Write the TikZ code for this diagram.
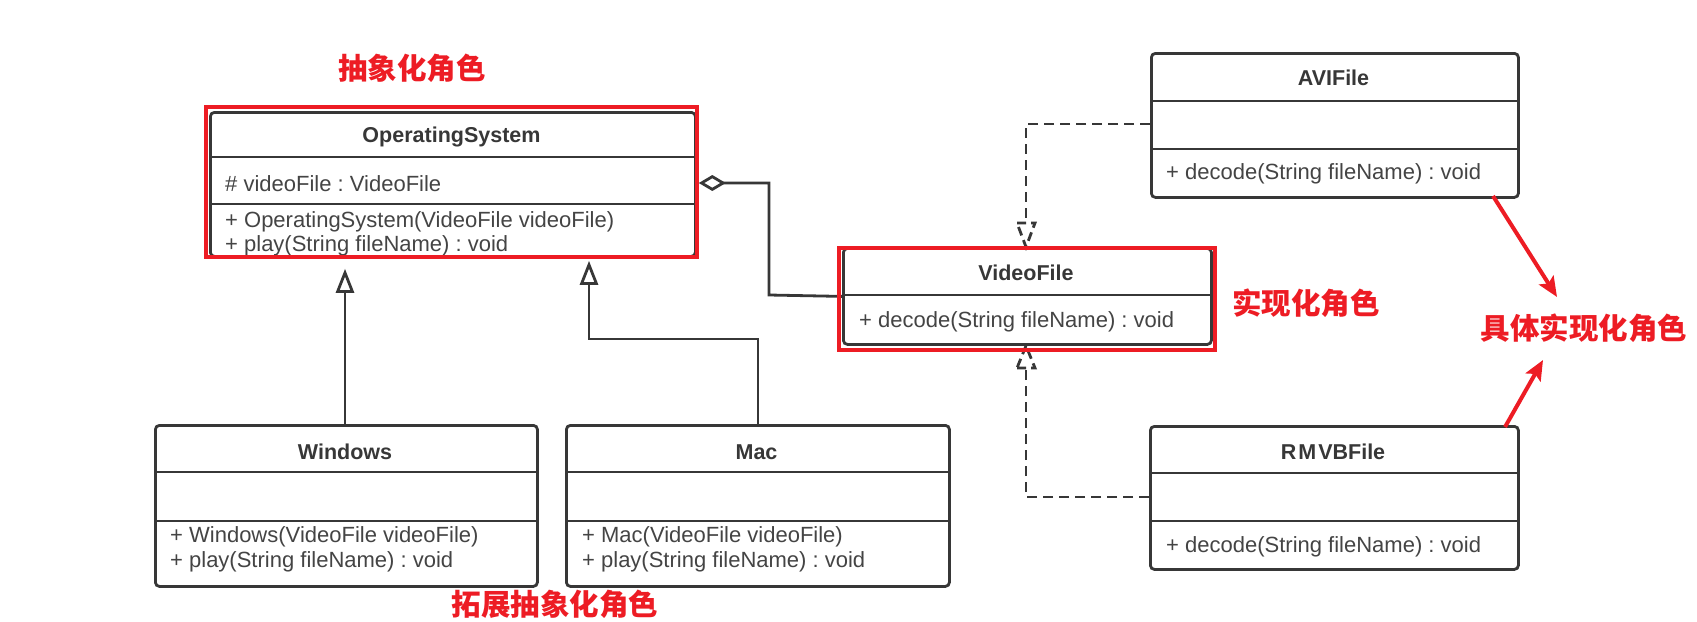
\documentclass[tikz,border=0pt]{standalone}
\usepackage{fontspec}
\setmainfont{Liberation Sans}
\newfontfamily\cjk{Noto Sans CJK SC}
\usetikzlibrary{arrows.meta}
\definecolor{ink}{RGB}{55,55,55}
\definecolor{txt}{RGB}{68,68,68}
\definecolor{hl}{RGB}{237,28,36}
\frenchspacing
\begin{document}
\begin{tikzpicture}[x=1pt,y=-1pt,
  cls/.style={draw=ink, line width=2.8pt, rounded corners=4pt, fill=white, inner sep=0pt, anchor=north west},
  divider/.style={draw=ink, line width=2.8pt},
  ctitle/.style={text=ink, font=\fontsize{21.5}{24}\selectfont\bfseries, inner sep=0pt},
  member/.style={text=txt, font=\fontsize{22}{25}\selectfont, inner sep=0pt, anchor=west},
  conn/.style={draw=ink, line width=2.8pt},
  gen/.style={conn, -{Triangle[open, length=24pt, width=18pt, line width=2.8pt]}},
  agg/.style={conn, {Diamond[open, length=27pt, width=16pt, line width=2.8pt]}-},
  real/.style={conn, dash pattern=on 10pt off 6pt},
  realtip/.style={conn, dash pattern=on 9pt off 5pt},
  hlbox/.style={draw=hl, line width=4.5pt},
  hlarrow/.style={draw=hl, line width=4pt, -{Stealth[length=20pt, width=17pt, inset=4pt]}},
  hllabel/.style={text=hl, font=\cjk\fontsize{29.5}{32}\selectfont\bfseries, inner sep=0pt}
]
\useasboundingbox (0,0) rectangle (1697,621);

% ---------- OperatingSystem ----------
\node[cls, minimum width=485pt, minimum height=144pt] (os) at (209,111) {};
\draw[divider] (209,157) -- (694,157);
\draw[divider] (209,204) -- (694,204);
\node[ctitle] (ost) at (451.5,137) {OperatingSystem};
\node[member] (osa) at (225,184) {\# videoFile : VideoFile};
\node[member] (osm1) at (225,222) {+ OperatingSystem(VideoFile videoFile)};
\node[member] (osm2) at (225,246) {+ play(String fileName) : void};

% ---------- Windows ----------
\node[cls, minimum width=382pt, minimum height=161pt] (win) at (154,424) {};
\draw[divider] (154,472) -- (536,472);
\draw[divider] (154,521) -- (536,521);
\node[ctitle] (wint) at (345,452) {Windows};
\node[member] (winm1) at (170,537) {+ Windows(VideoFile videoFile)};
\node[member] (winm2) at (170,562) {+ play(String fileName) : void};

% ---------- Mac ----------
\node[cls, minimum width=383pt, minimum height=161pt] (mac) at (565,424) {};
\draw[divider] (565,472) -- (948,472);
\draw[divider] (565,521) -- (948,521);
\node[ctitle] (mact) at (756.5,452) {Mac};
\node[member] (macm1) at (582,537) {+ Mac(VideoFile videoFile)};
\node[member] (macm2) at (582,562) {+ play(String fileName) : void};

% ---------- VideoFile ----------
\node[cls, minimum width=368pt, minimum height=96pt] (vf) at (842,247) {};
\draw[divider] (842,295) -- (1210,295);
\node[ctitle] (vft) at (1026,273) {VideoFile};
\node[member] (vfm) at (859,322) {+ decode(String fileName) : void};

% ---------- AVIFile ----------
\node[cls, minimum width=367pt, minimum height=144pt] (avi) at (1150,52) {};
\draw[divider] (1150,101) -- (1517,101);
\draw[divider] (1150,149) -- (1517,149);
\node[ctitle] (avit) at (1333.5,78) {AVIFile};
\node[member] (avim) at (1166,174) {+ decode(String fileName) : void};

% ---------- RMVBFile ----------
\node[cls, minimum width=368pt, minimum height=143pt] (rm) at (1149,425) {};
\draw[divider] (1149,473) -- (1517,473);
\draw[divider] (1149,521) -- (1517,521);
\node[ctitle] (rmt) at (1333,452) {R\hspace{2pt}M\hspace{2pt}VBFile};
\node[member] (rmm) at (1166,547) {+ decode(String fileName) : void};

% ---------- generalization ----------
\coordinate (wx) at (345,0);
\coordinate (macbend) at (589,339);
\draw[gen, shorten >=11pt] (win.north -| wx) -- (os.south -| wx);
\draw[gen, shorten >=3pt] (mac.north) |- (macbend) -- (os.south -| macbend);

% ---------- aggregation ----------
\coordinate (aggy) at (0,183);
\coordinate (aggbend) at (769,295);
\draw[agg] ([xshift=2pt]os.east |- aggy) -| (aggbend) -- (vf.west);

% ---------- realization ----------
\coordinate (rx) at (1026,0);
\coordinate (avirow) at (0,124);
\coordinate (rmrow) at (0,497);
\coordinate (tipA) at (1026,223);
\coordinate (tipB) at (1026,368);
\draw[real] (avi.west |- avirow) -| (tipA);
\draw[realtip] ([xshift=-9pt]tipA) -- ([xshift=9pt]tipA) -- (vf.north -| rx) -- cycle;
\draw[real] (rm.west |- rmrow) -| (tipB);
\draw[realtip] ([xshift=-9pt]tipB) -- ([xshift=9pt]tipB) -- (vf.south -| rx) -- cycle;

% ---------- highlight boxes ----------
\draw[hlbox] (206,107) rectangle (697,257);
\draw[hlbox] (839,248) rectangle (1215,350);

% ---------- labels ----------
\node[hllabel] (lab1) at (412,68) {抽象化角色};
\node[hllabel] (lab2) at (555,604) {拓展抽象化角色};
\node[hllabel] (lab3) at (1306,303) {实现化角色};
\node[hllabel] (lab4) at (1584,328) {具体实现化角色};

% ---------- red arrows ----------
\coordinate (a1s) at (1493,196);
\coordinate (a1e) at (1557,297);
\coordinate (a2s) at (1505,427);
\coordinate (a2e) at (1543,360);
\draw[hlarrow] (a1s) -- (a1e);
\draw[hlarrow] (a2s) -- (a2e);
\end{tikzpicture}
\end{document}
